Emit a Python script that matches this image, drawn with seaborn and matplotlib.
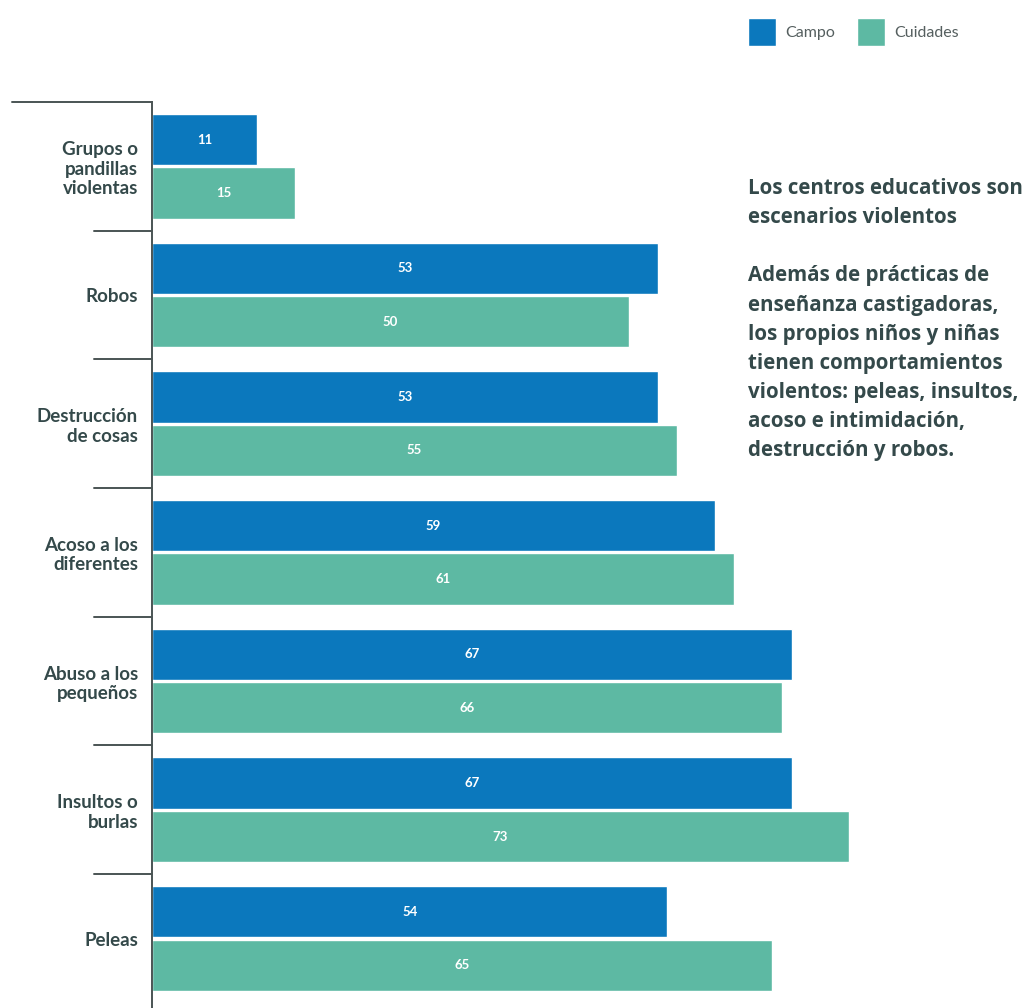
import pandas as pd
import seaborn as sns
import matplotlib.pyplot as plt
from matplotlib.transforms import blended_transform_factory

categories = ['Grupos o\npandillas\nviolentas', 'Robos', 'Destrucción\nde cosas',
              'Acoso a los\ndiferentes', 'Abuso a los\npequeños', 'Insultos o\nburlas', 'Peleas']
campo = [11, 53, 53, 59, 67, 67, 54]
cuidades = [15, 50, 55, 61, 66, 73, 65]
series = ['Campo', 'Cuidades']
colors = {'Campo': '#0b78bd', 'Cuidades': '#5db9a3'}

note = ('Los centros educativos son\nescenarios violentos\n\n'
        'Además de prácticas de\nenseñanza castigadoras,\nlos propios niños y niñas\n'
        'tienen comportamientos\nviolentos: peleas, insultos,\nacoso e intimidación,\n'
        'destrucción y robos.')

TEXT_COLOR = '#34494a'


def main():
    sns.set_style('white')
    plt.rcParams['font.family'] = ['Lato', 'DejaVu Sans']

    df = pd.DataFrame({
        'categoria': categories * 2,
        'valor': campo + cuidades,
        'serie': ['Campo'] * len(categories) + ['Cuidades'] * len(categories),
    })

    fig = plt.figure(figsize=(10.33, 10.08), dpi=100)
    ax = fig.add_axes([152 / 1033, 0, 881 / 1033, 906 / 1008])

    sns.barplot(data=df, x='valor', y='categoria', hue='serie', hue_order=series,
                palette=colors, orient='h', width=0.83, gap=0.04,
                saturation=1, ax=ax)

    for cont in ax.containers:
        ax.bar_label(cont, fmt='%d', label_type='center', color='white',
                     fontsize=9.5, fontweight='bold')

    ax.set_xlim(0, 92.3)
    ax.set_ylim(6.54, -0.5)
    ax.set_xlabel('')
    ax.set_ylabel('')
    ax.set_xticks([])
    ax.tick_params(axis='y', length=0, pad=10)
    for lbl in ax.get_yticklabels():
        lbl.set_fontsize(13.5)
        lbl.set_fontweight('bold')
        lbl.set_color(TEXT_COLOR)
        lbl.set_linespacing(1.17)

    for side in ['top', 'right', 'bottom']:
        ax.spines[side].set_visible(False)
    ax.spines['left'].set_color('#4a5454')
    ax.spines['left'].set_linewidth(1.4)

    # separator ticks between the groups
    trans = blended_transform_factory(ax.transAxes, ax.transData)
    for i in range(len(categories)):
        x0 = -0.159 if i == 0 else -0.066
        ax.plot([x0, 0], [i - 0.5, i - 0.5], color='#4a5454', lw=1.4,
                transform=trans, clip_on=False)

    sns.move_legend(ax, 'upper left', bbox_to_anchor=(734 / 1033, 1 - 4 / 1008),
                    bbox_transform=fig.transFigure, ncol=2, frameon=False,
                    title=None, fontsize=11.5, handlelength=1.7, handleheight=2.3,
                    handletextpad=0.6, columnspacing=1.4)
    for t in ax.get_legend().get_texts():
        t.set_color('#555f5f')

    fig.text(748 / 1033, 1 - 178 / 1008, note, ha='left', va='top',
             fontsize=14.8, fontweight='bold', color=TEXT_COLOR, linespacing=1.51,
             family=['Open Sans', 'DejaVu Sans'])

    fig.savefig('out.png', dpi=100)


if __name__ == '__main__':
    main()
